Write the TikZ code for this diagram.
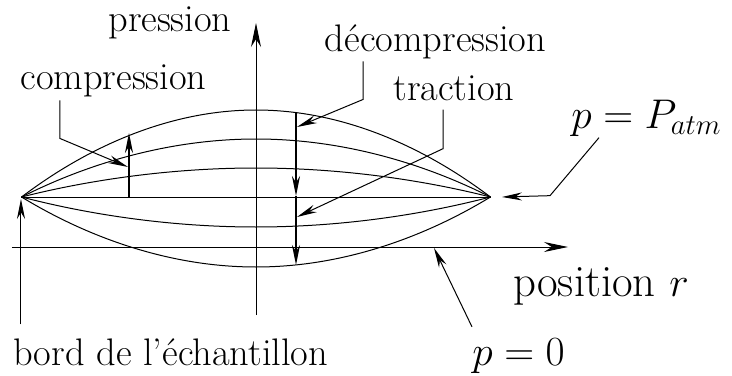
\documentclass[tikz,border=0pt]{standalone}
\usepackage{amsmath}
\usetikzlibrary{positioning,arrows.meta,calc}
\tikzset{
  >={Stealth[length=10pt,width=4pt]},
  profil/.style={line width=0.5pt},
  axe/.style={-{Stealth[length=12pt,width=5pt]},line width=0.5pt},
  pfleche/.style={->,line width=1pt},
  leader/.style={->,line width=0.5pt},
  lbl/.style={font=\fontsize{19.2}{23}\selectfont,inner sep=0pt},
  biglbl/.style={font=\fontsize{22.4}{27}\selectfont,inner sep=0pt},
}

\begin{document}
\begin{tikzpicture}[x=5pt,y=5pt]
  \useasboundingbox (-25.6,-12.8) rectangle (47.6,24.7);
  % edges of the sample (origin at the axis crossing)
  \coordinate (L) at (-23.45,5);
  \coordinate (R) at (23.45,5);
  % axes
  \coordinate (xo) at (-24.4,0);  \coordinate (xe) at (31.2,0);
  \coordinate (yo) at (0,-6.8);   \coordinate (ye) at (0,22.4);
  \draw[axe] (xo) -- (xe);
  \draw[axe] (yo) -- (ye);
  % pressure profiles
  \draw[profil] (L) parabola bend (0,13.7) (R);
  \draw[profil] (L) parabola bend (0,10.8) (R);
  \draw[profil] (L) parabola bend (0,7.9) (R);
  \draw[profil] (L) -- (R);
  \draw[profil] (L) parabola bend (0,2.0) (R);
  \draw[profil] (L) parabola bend (0,-2.0) (R);
  % compression / decompression arrows
  \coordinate (cbot) at (-12.7,5);   \coordinate (ctop) at (-12.7,11.4);
  \coordinate (dtop) at (4,13.45);   \coordinate (dmid) at (4,5.1);
  \coordinate (dbot) at (4,-1.8);
  \draw[pfleche] (cbot) -- (ctop);
  \draw[pfleche] (dtop) -- (dmid);
  \draw[pfleche] (dmid) -- (dbot);
  % labels
  \node[lbl,anchor=base] (presl) at (-8.6,21.5) {pression};
  \node[lbl,anchor=base] (compl) at (-14.25,15.7) {compression};
  \node[lbl,anchor=base] (decl) at (17.95,19.5) {décompression};
  \node[lbl,anchor=base] (tracl) at (19.8,14.7) {traction};
  \node[biglbl,anchor=base west] (patml) at (31.5,11.9) {$p=P_{atm}$};
  \node[biglbl,anchor=base west] (posl) at (25.7,-4.9) {position $r$};
  \node[biglbl,anchor=base west] (p0l) at (21.6,-11.8) {$p=0$};
  \node[lbl,anchor=base west] (bordl) at (-24.3,-11.8) {bord de l'échantillon};
  % leader targets
  \coordinate (ctip) at (-12.8,8.0);
  \coordinate (dtip) at (4.1,12.0);
  \coordinate (ttip) at (4.1,3.0);
  \coordinate (rtip) at (24.6,5);
  \coordinate (otip) at (17.8,-0.1);
  \coordinate (ltip) at (-23.5,4.8);
  % leaders
  \draw[leader] ($(compl.south)+(-5.35,-0.26)$) -- ++(0,-3.8) -- (ctip);
  \draw[leader] ($(decl.south)+(-7.25,-0.16)$) -- ++(0,-3.8) -- (dtip);
  \draw[leader] ($(tracl.south)+(-1.1,-0.9)$) -- ++(0,-3.9) -- (ttip);
  \draw[leader] ($(patml.south west)+(2.8,-0.12)$) -- ++(-4.9,-5.8) -- (rtip);
  \draw[leader] ($(p0l.north west)+(0,1.1)$) -- (otip);
  \draw[leader] ($(bordl.north west)+(0.8,1.36)$) -- (ltip);
\end{tikzpicture}
\end{document}
